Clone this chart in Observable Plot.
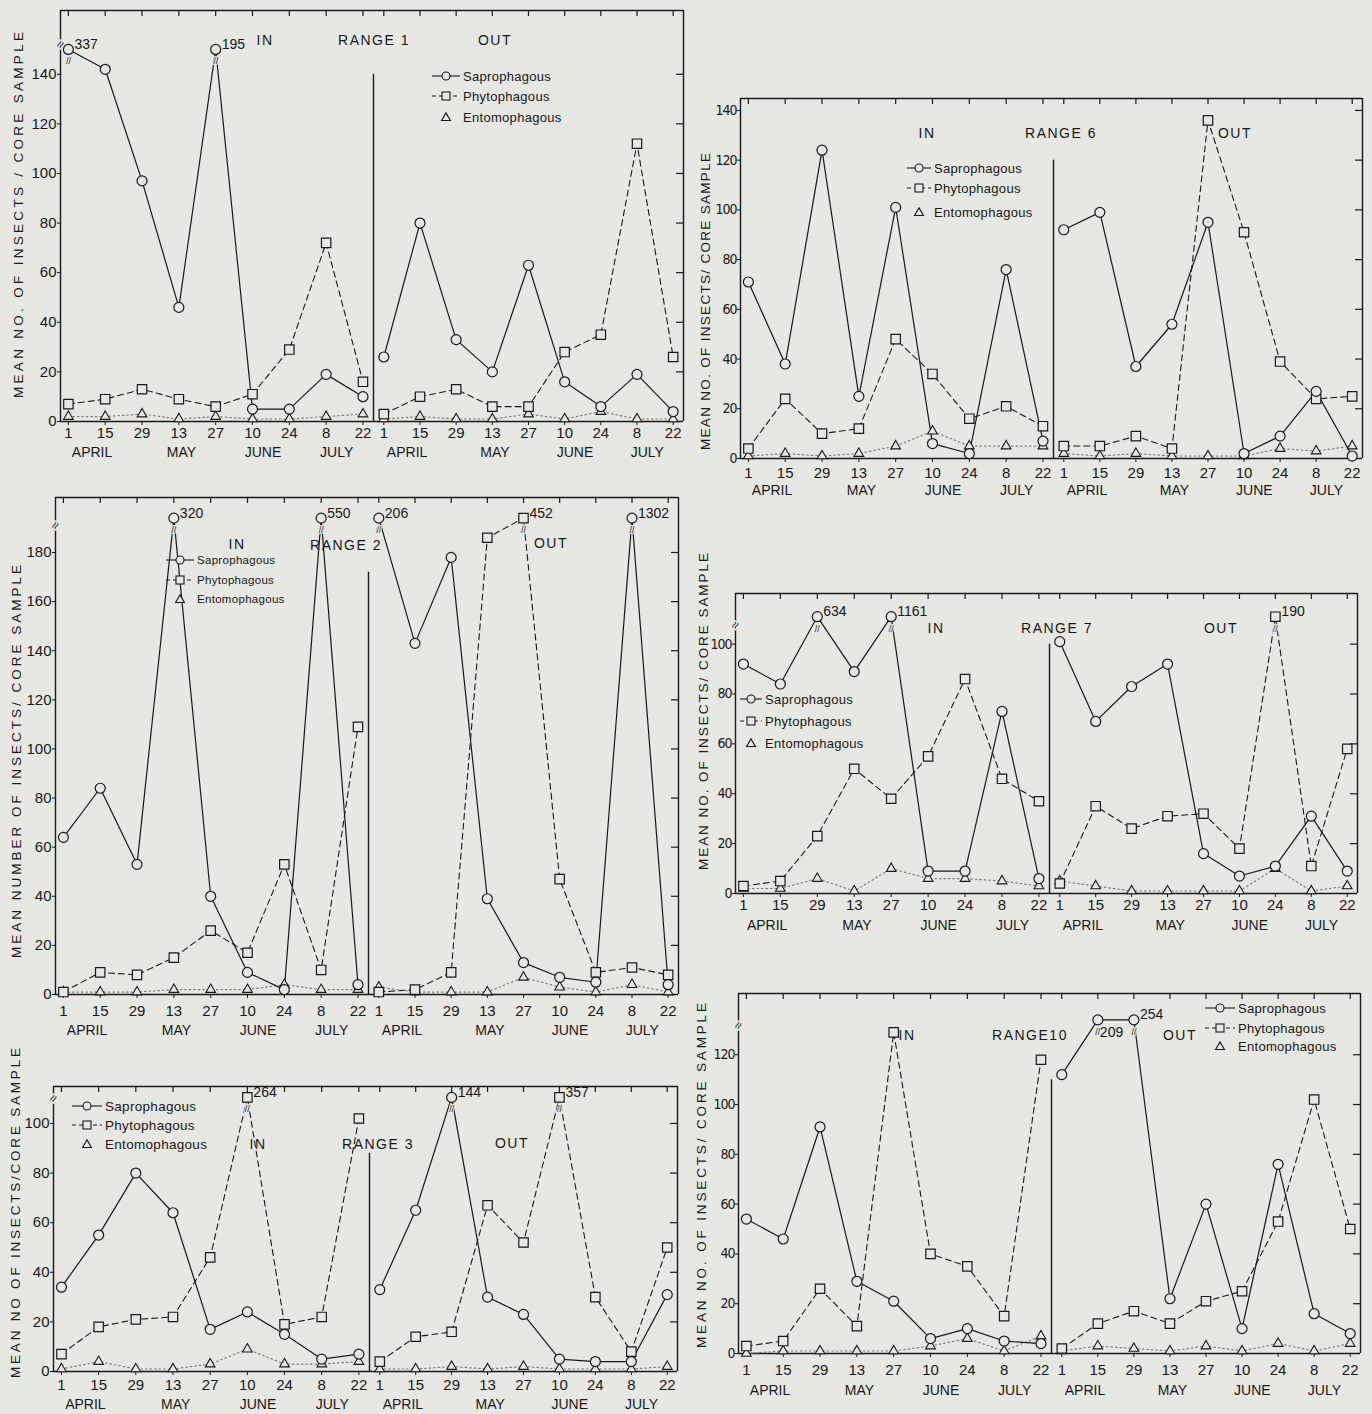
<!DOCTYPE html>
<html><head><meta charset="utf-8">
<script src="https://cdn.jsdelivr.net/npm/d3@7"></script>
<script src="https://cdn.jsdelivr.net/npm/@observablehq/plot@0.6"></script>
<style>
html,body{margin:0;padding:0;background:#e7e7e4;}
#page{position:relative;width:1372px;height:1414px;overflow:hidden;background:#e7e7e4;font-family:"Liberation Sans",Arial,sans-serif;}
#page svg{position:absolute;overflow:visible;}
</style></head><body><div id="page"></div>
<script>
// ---- shared axis data ----
const dates = [0,14,28,42,56,70,84,98,112];          // days after 1 April
const tickLabels = ["1","15","29","13","27","10","24","8","22"];
const months = ["APRIL","MAY","JUNE","JULY"];
const monthDays = [9,43,74,102];
const groups = ["Saprophagous","Phytophagous","Entomophagous"];

// ---- Range 1 ----
const r1InSap  = [337,142,97,46,195,5,5,19,10];
const r1InPhy  = [7,9,13,9,6,11,29,72,16];
const r1InEnt  = [2,2,3,1,2,1,1,2,3];
const r1OutSap = [26,80,33,20,63,16,6,19,4];
const r1OutPhy = [3,10,13,6,6,28,35,112,26];
const r1OutEnt = [1,2,1,1,3,1,4,1,1];
// ---- Range 6 ----
const r6InSap  = [71,38,124,25,101,6,2,76,7];
const r6InPhy  = [4,24,10,12,48,34,16,21,13];
const r6InEnt  = [1,2,1,2,5,11,5,5,5];
const r6OutSap = [92,99,37,54,95,2,9,27,1];
const r6OutPhy = [5,5,9,4,136,91,39,24,25];
const r6OutEnt = [2,1,2,1,1,1,4,3,5];
// ---- Range 2 ----
const r2InSap  = [64,84,53,320,40,9,2,550,4];
const r2InPhy  = [1,9,8,15,26,17,53,10,109];
const r2InEnt  = [1,1,1,2,2,2,4,2,2];
const r2OutSap = [206,143,178,39,13,7,5,1302,4];
const r2OutPhy = [1,2,9,186,452,47,9,11,8];
const r2OutEnt = [3,1,1,1,7,3,1,4,1];
// ---- Range 7 ----
const r7InSap  = [92,84,634,89,1161,9,9,73,6];
const r7InPhy  = [3,5,23,50,38,55,86,46,37];
const r7InEnt  = [2,2,6,1,10,6,6,5,3];
const r7OutSap = [101,69,83,92,16,7,11,31,9];
const r7OutPhy = [4,35,26,31,32,18,190,11,58];
const r7OutEnt = [5,3,1,1,1,1,10,1,3];
// ---- Range 3 ----
const r3InSap  = [34,55,80,64,17,24,15,5,7];
const r3InPhy  = [7,18,21,22,46,264,19,22,102];
const r3InEnt  = [1,4,1,1,3,9,3,3,4];
const r3OutSap = [33,65,144,30,23,5,4,4,31];
const r3OutPhy = [4,14,16,67,52,357,30,8,50];
const r3OutEnt = [1,1,2,1,2,1,1,1,2];
// ---- Range 10 ----
const r10InSap  = [54,46,91,29,21,6,10,5,4];
const r10InPhy  = [3,5,26,11,129,40,35,15,118];
const r10InEnt  = [0,1,1,1,1,3,6,1,7];
const r10OutSap = [112,209,254,22,60,10,76,16,8];
const r10OutPhy = [2,12,17,12,21,25,53,102,50];
const r10OutEnt = [1,3,2,1,3,1,4,1,4];

const ink = "#181818", bg = "#e7e7e4";
const regular = "'Liberation Sans', Arial, sans-serif";
const narrow = "'Liberation Sans Narrow', 'DejaVu Sans Condensed', 'Liberation Sans', sans-serif";

// layout of the six panels
const panels = [
 {range:"RANGE 1", in:[r1InSap,r1InPhy,r1InEnt], out:[r1OutSap,r1OutPhy,r1OutEnt],
  left:60, mid:373, right:683, top:10, zero:421, ymax:165.7, cap:150, brk:152, tickMax:140, outStart:140, tickPad:2, monthDy:31, narrowY:false,
  title:"MEAN NO. OF INSECTS / CORE SAMPLE", tx:18, ty0:32, ty1:398,
  lab:{in:[265,40], range:[374,40], out:[495,40]}, leg:{x:432, ys:[76,96,117], len:28, fs:13}},
 {range:"RANGE 6", in:[r6InSap,r6InPhy,r6InEnt], out:[r6OutSap,r6OutPhy,r6OutEnt],
  left:740, mid:1053, right:1362, top:98, zero:458, ymax:144.8, cap:Infinity, brk:null, tickMax:140, outStart:120, tickPad:5, monthDy:32, narrowY:true,
  title:"MEAN NO. OF INSECTS/ CORE SAMPLE", tx:705, ty0:153, ty1:450,
  lab:{in:[927,133], range:[1061,133], out:[1235,133]}, leg:{x:907, ys:[168,188,212], len:24, fs:13}},
 {range:"RANGE 2", in:[r2InSap,r2InPhy,r2InEnt], out:[r2OutSap,r2OutPhy,r2OutEnt],
  left:55, mid:368, right:678, top:497, zero:994, ymax:202.4, cap:194, brk:191, tickMax:180, outStart:172, tickPad:7, monthDy:36, narrowY:false,
  title:"MEAN NUMBER OF INSECTS/ CORE SAMPLE", tx:16, ty0:565, ty1:958,
  lab:{in:[237,544], range:[346,545], out:[551,543]}, leg:{x:166, ys:[560,580,599], len:28, fs:11.5}},
 {range:"RANGE 7", in:[r7InSap,r7InPhy,r7InEnt], out:[r7OutSap,r7OutPhy,r7OutEnt],
  left:735, mid:1049, right:1357, top:593, zero:893, ymax:120.3, cap:111, brk:107.5, tickMax:100, outStart:100, tickPad:2, monthDy:32, narrowY:true,
  title:"MEAN NO. OF INSECTS/ CORE SAMPLE", tx:703, ty0:553, ty1:870,
  lab:{in:[936,628], range:[1057,628], out:[1221,628]}, leg:{x:740, ys:[699,721,743], len:22, fs:13}},
 {range:"RANGE 3", in:[r3InSap,r3InPhy,r3InEnt], out:[r3OutSap,r3OutPhy,r3OutEnt],
  left:53, mid:369, right:677, top:1086, zero:1371, ymax:114.9, cap:110.5, brk:110, tickMax:100, outStart:88, tickPad:4, monthDy:33, narrowY:false,
  title:"MEAN NO OF INSECTS/CORE SAMPLE", tx:15, ty0:1048, ty1:1378,
  lab:{in:[258,1144], range:[378,1144], out:[512,1143]}, leg:{x:72, ys:[1106,1125,1144], len:30, fs:13.5}},
 {range:"RANGE10", in:[r10InSap,r10InPhy,r10InEnt], out:[r10OutSap,r10OutPhy,r10OutEnt],
  left:738, mid:1051, right:1360, top:993, zero:1353, ymax:144.6, cap:134, brk:131.7, tickMax:120, outStart:110, tickPad:7, monthDy:37, narrowY:true,
  title:"MEAN NO. OF INSECTS/ CORE SAMPLE", tx:701, ty0:1003, ty1:1348,
  lab:{in:[907,1035], range:[1030,1035], out:[1180,1035]}, leg:{x:1205, ys:[1008,1028,1046], len:30, fs:13}}
];

const page = document.getElementById("page");

function subplot(p, side) {
  const isIn = side === "in";
  const x0 = isIn ? p.left : p.mid, x1 = isIn ? p.mid : p.right;
  const mL = isIn ? 50 : 4, mR = 4, mT = 4, mB = 50;
  const plotH = p.zero - p.top;
  const ppu = plotH / p.ymax;
  const dom = isIn ? [-3, 116] : [-4, 116];
  const ppd = (x1 - x0) / (dom[1] - dom[0]);
  const s = p[side];
  const mk = (arr, g) => arr.map((v, i) => ({g, day: dates[i], v,
      y: v > p.cap ? p.cap : v, broken: v > p.cap,
      nextBroken: i + 1 < arr.length && arr[i + 1] > p.cap}));
  const sap = mk(s[0], groups[0]), phy = mk(s[1], groups[1]), ent = mk(s[2], groups[2]);
  const broken = [...sap, ...phy, ...ent].filter(d => d.broken);
  const marks = [
    Plot.ruleY([0, p.ymax], {stroke: ink, strokeWidth: 1.4}),
    isIn ? Plot.ruleX([dom[0]], {stroke: ink, strokeWidth: 1.4})
         : Plot.ruleX([dom[0]], {y1: 0, y2: p.outStart, stroke: ink, strokeWidth: 1.4}),
    isIn ? null : Plot.ruleX([dom[1]], {stroke: ink, strokeWidth: 1.4}),
    Plot.ruleX(dates, {y1: p.ymax, y2: p.ymax - 6 / ppu, stroke: ink, strokeWidth: 1.2}),
    isIn ? null : Plot.ruleY(d3.range(20, p.tickMax + 1, 20), {x1: dom[1] - 7 / ppd, x2: dom[1], stroke: ink, strokeWidth: 1.2}),
    Plot.axisX({ticks: dates, tickFormat: d => tickLabels[dates.indexOf(d)], tickSize: 4, tickPadding: p.tickPad, fontSize: 15, label: null}),
    Plot.text(months, {x: (d, i) => monthDays[i], y: () => 0, text: d => d, dy: p.monthDy, fontSize: 14, fill: ink}),
    isIn ? Plot.axisY({ticks: d3.range(0, p.tickMax + 1, 20), tickSize: 3, tickPadding: 1, fontSize: 15, label: null}) : null,
    isIn && p.brk ? Plot.text([p.brk], {x: () => dom[0], y: d => d, text: () => "≈", rotate: -60, fontSize: 13, fill: ink, stroke: bg, strokeWidth: 3}) : null,
    Plot.line(ent, {x: "day", y: "y", stroke: "#7d7d7d", strokeDasharray: "1.5,3", strokeWidth: 1.2}),
    Plot.line(phy, {x: "day", y: "y", stroke: ink, strokeDasharray: "6,4", strokeWidth: 1.1}),
    Plot.line(sap, {x: "day", y: "y", stroke: ink, strokeWidth: 1.2}),
    Plot.text(broken, {x: "day", y: "y", text: () => "//", dy: 12, fontSize: 9, fill: ink, stroke: bg, strokeWidth: 2}),
    Plot.dot(ent, {x: "day", y: "y", symbol: "triangle", r: 3.6, fill: bg, stroke: ink, strokeWidth: 1.1}),
    Plot.dot(phy, {x: "day", y: "y", symbol: "square", r: 5.3, fill: bg, stroke: ink, strokeWidth: 1.2}),
    Plot.dot(sap, {x: "day", y: "y", symbol: "circle", r: 5, fill: bg, stroke: ink, strokeWidth: 1.2}),
    Plot.text(broken.filter(d => !d.nextBroken), {x: "day", y: "y", text: d => String(d.v), textAnchor: "start", dx: 6, dy: -5, fontSize: 14, fill: ink}),
    Plot.text(broken.filter(d => d.nextBroken), {x: "day", y: "y", text: d => String(d.v), textAnchor: "start", dx: 2, dy: 13, fontSize: 14, fill: ink})
  ].filter(Boolean);
  const chart = Plot.plot({
    width: x1 - x0 + mL + mR, height: plotH + mT + mB,
    marginLeft: mL, marginRight: mR, marginTop: mT, marginBottom: mB,
    x: {domain: dom, type: "linear"},
    y: {domain: [0, p.ymax], type: "linear", axis: isIn ? undefined : null},
    style: {background: "transparent", color: ink, fontFamily: regular, fontSize: "15px", overflow: "visible"},
    marks
  });
  if (isIn && p.narrowY) {
    // condense the y tick labels (right-aligned texts) on the right-hand panels
    chart.querySelectorAll("text").forEach(t => {
      const a = t.closest("[text-anchor]");
      if (a && a.getAttribute("text-anchor") === "end") {
        t.style.fontFamily = narrow;
        t.style.fontSize = "14px";
        t.style.letterSpacing = "-1px";
      }
    });
  }
  chart.style.left = (x0 - mL) + "px";
  chart.style.top = (p.top - mT) + "px";
  chart.style.maxWidth = "none";
  page.appendChild(chart);
}

panels.forEach(p => { subplot(p, "in"); subplot(p, "out"); });

// overlay: titles, panel labels, legends
const svg = d3.select(page).append("svg").attr("width", 1372).attr("height", 1414)
  .style("left", "0px").style("top", "0px").style("pointer-events", "none")
  .style("font-family", regular).style("fill", ink);

panels.forEach(p => {
  const yc = (p.ty0 + p.ty1) / 2;
  svg.append("text").attr("transform", `translate(${p.tx},${yc}) rotate(-90)`)
    .attr("text-anchor", "middle").attr("dominant-baseline", "central")
    .attr("font-size", 13.5).attr("textLength", p.ty1 - p.ty0).attr("lengthAdjust", "spacing")
    .text(p.title);
  [["in", "IN"], ["range", p.range], ["out", "OUT"]].forEach(([k, t]) => {
    svg.append("text").attr("x", p.lab[k][0]).attr("y", p.lab[k][1])
      .attr("text-anchor", "middle").attr("dominant-baseline", "central")
      .attr("font-size", 14).attr("letter-spacing", 1.5).text(t);
  });
  const L = p.leg, cx = L.x + L.len / 2;
  const g = svg.append("g").attr("stroke", ink).attr("stroke-width", 1.1);
  g.append("line").attr("x1", L.x).attr("x2", L.x + L.len).attr("y1", L.ys[0]).attr("y2", L.ys[0]);
  g.append("circle").attr("cx", cx).attr("cy", L.ys[0]).attr("r", 4).attr("fill", bg);
  g.append("line").attr("x1", L.x).attr("x2", L.x + L.len).attr("y1", L.ys[1]).attr("y2", L.ys[1]).attr("stroke-dasharray", "4,3");
  g.append("rect").attr("x", cx - 4).attr("y", L.ys[1] - 4).attr("width", 8).attr("height", 8).attr("fill", bg);
  g.append("path").attr("d", d3.symbol(d3.symbolTriangle, 34)()).attr("transform", `translate(${cx},${L.ys[2] + 1})`).attr("fill", bg);
  groups.forEach((name, i) => {
    svg.append("text").attr("x", L.x + L.len + 3).attr("y", L.ys[i])
      .attr("dominant-baseline", "central").attr("font-size", L.fs).attr("letter-spacing", 0.3)
      .text(name);
  });
});
</script></body></html>
